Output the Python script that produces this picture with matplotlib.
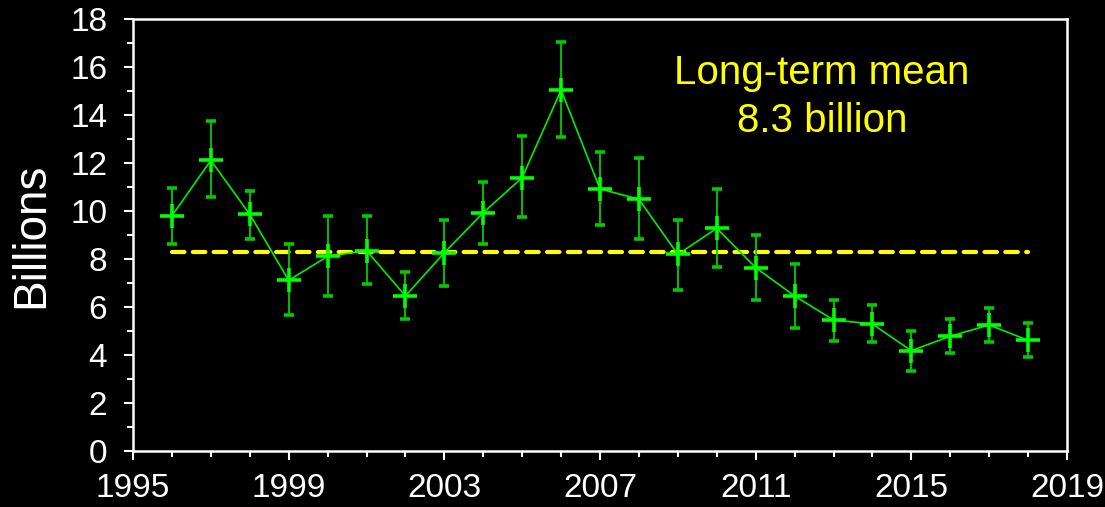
import matplotlib
matplotlib.use('Agg')
from matplotlib import pyplot as plt
from matplotlib.ticker import MultipleLocator
import numpy as np

plt.rcParams['font.family'] = ['Liberation Sans', 'DejaVu Sans']

# values, billions
years = list(range(1996, 2019))
values = [9.80, 12.11, 9.86, 7.11, 8.11, 8.35, 6.46, 8.26, 9.93, 11.39, 15.04, 10.92,
          10.49, 8.19, 9.28, 7.64, 6.46, 5.46, 5.29, 4.18, 4.78, 5.25, 4.61]
upper = [10.94, 13.76, 10.85, 8.61, 9.79, 9.79, 7.44, 9.63, 11.21, 13.13, 17.04, 12.47,
         12.22, 9.63, 10.90, 8.99, 7.78, 6.29, 6.08, 5.01, 5.50, 5.97, 5.35]
lower = [8.61, 10.57, 8.83, 5.65, 6.45, 6.97, 5.49, 6.88, 8.61, 9.74, 13.07, 9.42,
         8.82, 6.71, 7.68, 6.29, 5.14, 4.58, 4.53, 3.33, 4.08, 4.54, 3.92]
long_term_mean = 8.3
mean_years = [1996, 2018]
year_ticks = [1995, 1999, 2003, 2007, 2011, 2015, 2019]

vals = np.array(values)
yerr = [vals - np.array(lower), np.array(upper) - vals]

fig = plt.figure(figsize=(11.05, 5.07), dpi=100, facecolor='black')
ax = fig.add_axes([0.1204, 0.1105, 0.8452, 0.852])
ax.set_facecolor('black')

ax.plot(mean_years, [long_term_mean] * 2, color='#ffff00', lw=3, ls=(0, (3, 2)),
        solid_capstyle='round', dash_capstyle='round', zorder=2)
ax.errorbar(years, values, yerr=yerr, color='#00ee00', ecolor='#00cc00', elinewidth=1.3,
            capsize=3.6, capthick=1.3, lw=1.2, marker='+', markersize=17, mew=2.6,
            mec='#00ff00', zorder=3)

ax.text(2012.7, 15.75, 'Long-term mean', color='#ffff00', fontsize=29, ha='center', va='center')
ax.text(2012.7, 13.75, '8.3 billion', color='#ffff00', fontsize=29, ha='center', va='center')

ax.set_xlim(1995, 2019)
ax.set_ylim(0, 18)
ax.set_xticks(year_ticks)
ax.xaxis.set_minor_locator(MultipleLocator(1))
ax.yaxis.set_major_locator(MultipleLocator(2))
ax.yaxis.set_minor_locator(MultipleLocator(1))
ax.tick_params(which='both', direction='out', colors='white', width=1.5, labelsize=24)
ax.tick_params(which='major', length=6.5)
ax.tick_params(which='minor', length=4.5)
ax.tick_params(axis='y', pad=12)
ax.tick_params(axis='x', pad=9)
for s in ax.spines.values():
    s.set_color('white')
    s.set_linewidth(1.8)

ax.set_ylabel('Billions', color='white', fontsize=33, labelpad=12)

fig.savefig('out.png', dpi=100, facecolor='black')
